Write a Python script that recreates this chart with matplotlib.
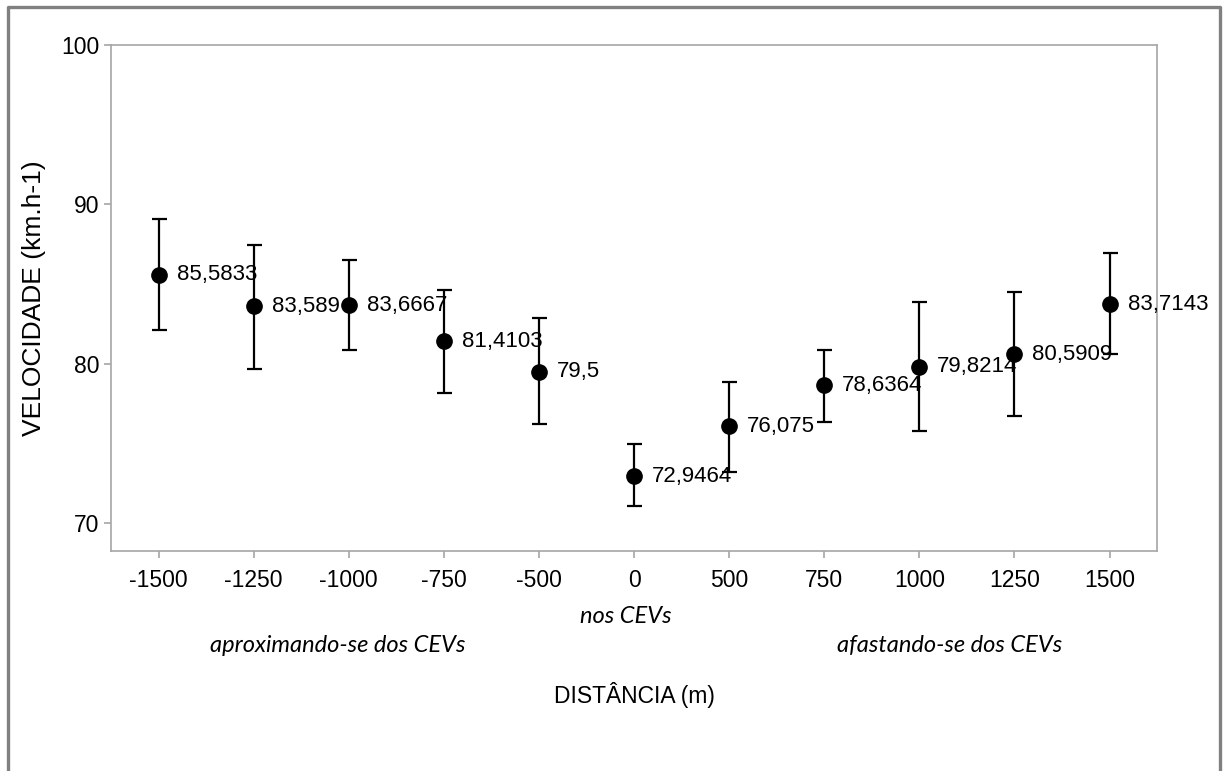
import matplotlib
matplotlib.use("Agg")
import matplotlib.pyplot as plt
from matplotlib.lines import Line2D

plt.rcParams['font.family'] = ['Liberation Sans', 'DejaVu Sans']

# data
distances = ["-1500", "-1250", "-1000", "-750", "-500", "0",
             "500", "750", "1000", "1250", "1500"]
means = [85.5833, 83.589, 83.6667, 81.4103, 79.5, 72.9464,
         76.075, 78.6364, 79.8214, 80.5909, 83.7143]
labels = ["85,5833", "83,589", "83,6667", "81,4103", "79,5", "72,9464",
          "76,075", "78,6364", "79,8214", "80,5909", "83,7143"]
upper = [89.08, 87.47, 86.53, 84.65, 82.89, 74.96,
         78.87, 80.86, 83.85, 84.48, 86.93]
lower = [82.10, 79.67, 80.88, 78.18, 76.20, 71.07,
         73.22, 76.32, 75.78, 76.74, 80.61]

fig = plt.figure(figsize=(12.24, 7.71), dpi=100)
ax = fig.add_axes([0.0907, 0.2853, 0.8546, 0.6563])

xs = list(range(len(distances)))
err_lo = [m - l for m, l in zip(means, lower)]
err_hi = [u - m for m, u in zip(means, upper)]
ax.errorbar(xs, means, yerr=[err_lo, err_hi], fmt='o', color='black',
            ecolor='black', elinewidth=1.6, capsize=5.4, capthick=1.6,
            markersize=11)

for x, m, t in zip(xs, means, labels):
    ax.annotate(t, (x, m), xytext=(13, 0), textcoords='offset points',
                va='center', ha='left', fontsize=16)

ax.set_xlim(-0.5, len(distances) - 0.5)
ax.set_ylim(68.24, 100)
ax.set_xticks(xs)
ax.set_xticklabels(distances)
ax.set_yticks([70, 80, 90, 100])

for s in ax.spines.values():
    s.set_color('#a6a6a6')
    s.set_linewidth(1.2)
ax.tick_params(colors='#a6a6a6', labelcolor='black', labelsize=16.5,
               length=5, width=1.2)
ax.tick_params(axis='x', pad=8)

# axis titles
fig.text(34 / 1224, 1 - 298 / 771, "VELOCIDADE (km.h-1)", rotation=90,
         ha='center', va='center', fontsize=19)
fig.text(0.518, 0.099, "DISTÂNCIA (m)", ha='center', va='center', fontsize=16.5)

# captions under the axis
cap_font = ['Lato', 'DejaVu Sans']
fig.text(0.511, 0.2, "nos CEVs", ha='center', va='center', fontsize=17,
         style='italic', family=cap_font)
fig.text(0.276, 0.163, "aproximando-se dos CEVs", ha='center', va='center',
         fontsize=17, style='italic', family=cap_font)
fig.text(0.776, 0.163, "afastando-se dos CEVs", ha='center', va='center',
         fontsize=17, style='italic', family=cap_font)

# outer frame (bottom edge cropped off)
fx0, fx1, fy1 = 7.5 / 1224, 1219.5 / 1224, 1 - 6.5 / 771
fig.add_artist(Line2D([fx0, fx0, fx1, fx1], [0, fy1, fy1, 0],
                      transform=fig.transFigure, color='#808080', linewidth=2.4))

fig.savefig("out.png", dpi=100)
